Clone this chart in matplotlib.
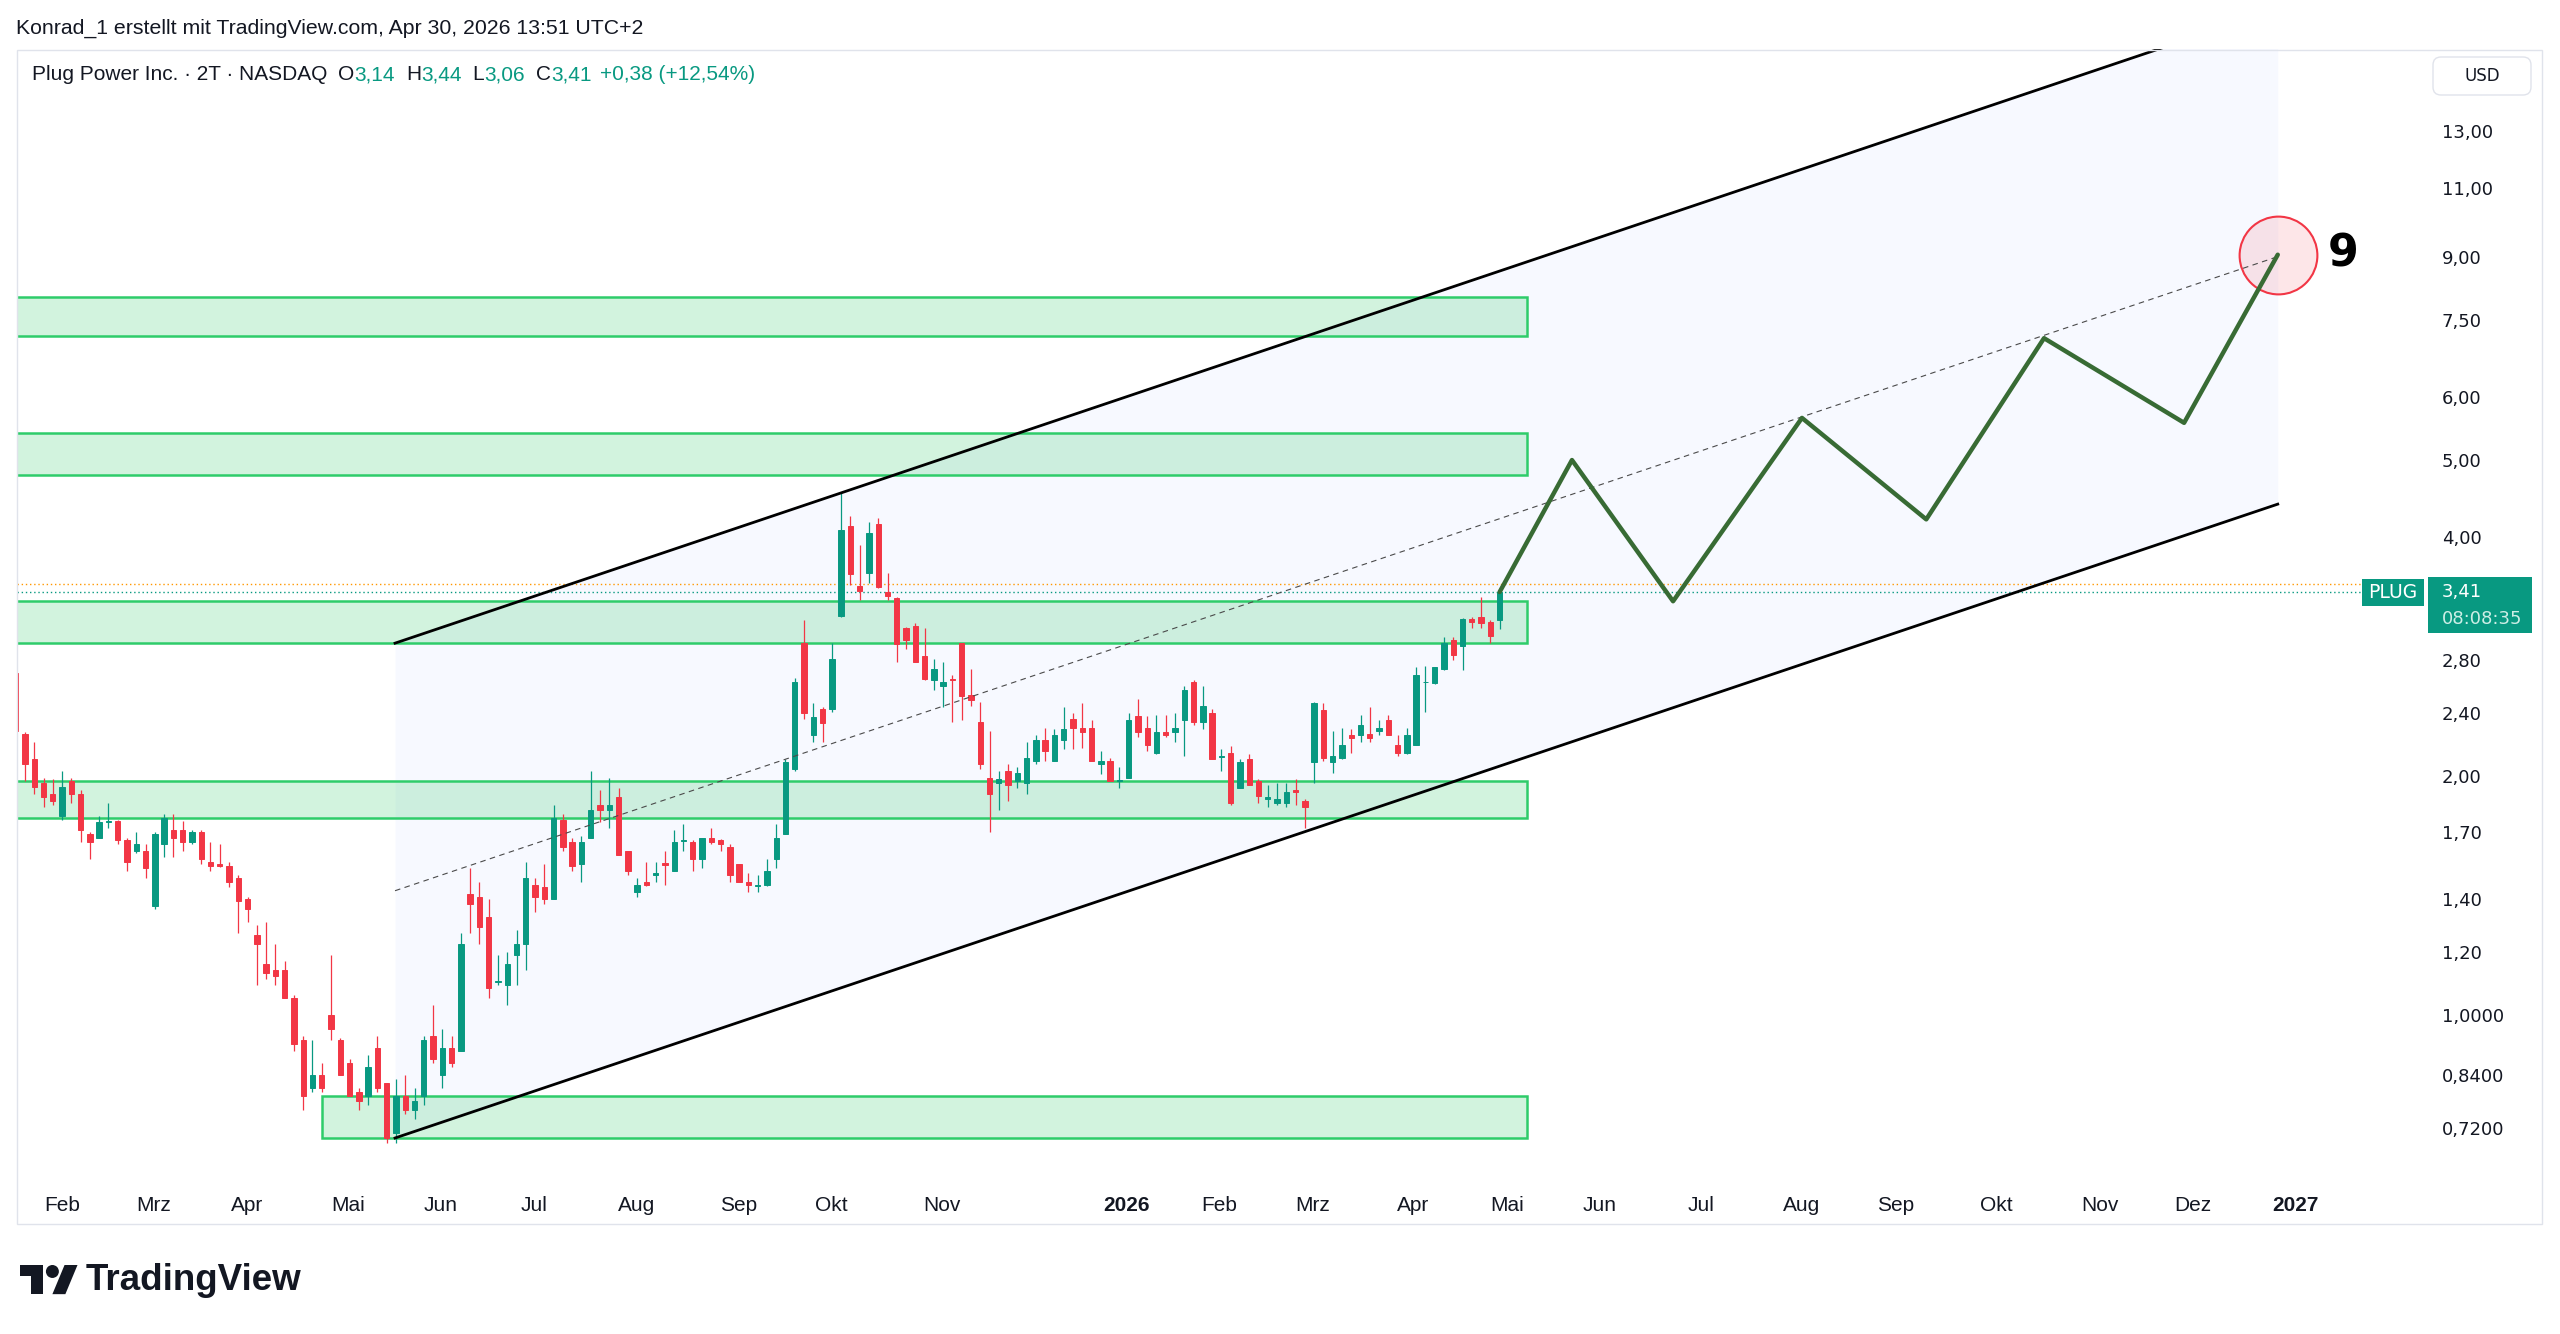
import numpy as np
import matplotlib
matplotlib.use('Agg')
import matplotlib.pyplot as plt
import matplotlib.patches as mpatches
from matplotlib.ticker import NullLocator

# PLUG, 2-day candles (bar index 0 = late Jan 2025, last bar = Apr 30 2026)
opens = [
    2.70, 2.26, 2.10, 1.96, 1.90, 1.78, 1.97, 1.90, 1.69, 1.67,
    1.75, 1.755, 1.66, 1.61, 1.61, 1.37, 1.64, 1.71, 1.71, 1.65,
    1.70, 1.56, 1.55, 1.54, 1.49, 1.40, 1.26, 1.16, 1.14, 1.14,
    1.05, 0.93, 0.81, 0.84, 1.00, 0.93, 0.87, 0.80, 0.79, 0.91,
    0.82, 0.71, 0.79, 0.76, 0.79, 0.94, 0.84, 0.91, 0.90, 1.42,
    1.41, 1.33, 1.10, 1.09, 1.19, 1.23, 1.46, 1.45, 1.40, 1.76,
    1.65, 1.55, 1.67, 1.84, 1.81, 1.88, 1.61, 1.43, 1.47, 1.50,
    1.555, 1.52, 1.655, 1.65, 1.57, 1.67, 1.66, 1.63, 1.55, 1.47,
    1.455, 1.46, 1.57, 1.69, 2.04, 2.94, 2.25, 2.43, 2.43, 3.18,
    4.13, 3.47, 3.60, 4.15, 3.41, 3.35, 3.07, 3.09, 2.83, 2.64,
    2.60, 2.65, 2.94, 2.53, 2.34, 1.99, 1.96, 2.03, 1.97, 1.96,
    2.09, 2.22, 2.09, 2.22, 2.36, 2.30, 2.30, 2.07, 2.09, 1.97,
    1.99, 2.38, 2.30, 2.14, 2.27, 2.27, 2.35, 2.63, 2.34, 2.40,
    2.115, 2.14, 1.93, 2.10, 1.97, 1.87, 1.85, 1.85, 1.92, 1.86,
    2.08, 2.42, 2.08, 2.11, 2.25, 2.25, 2.26, 2.28, 2.35, 2.19,
    2.14, 2.19, 2.625, 2.62, 2.73, 2.97, 2.92, 3.15, 3.17, 3.13,
    3.14]
highs = [
    2.74, 2.27, 2.21, 1.99, 1.98, 2.03, 1.99, 1.92, 1.70, 1.78,
    1.85, 1.76, 1.67, 1.70, 1.64, 1.70, 1.79, 1.79, 1.755, 1.71,
    1.71, 1.65, 1.64, 1.56, 1.50, 1.41, 1.30, 1.31, 1.23, 1.17,
    1.06, 0.94, 0.93, 0.87, 1.19, 0.935, 0.88, 0.81, 0.89, 0.94,
    0.82, 0.83, 0.84, 0.81, 0.94, 1.03, 0.96, 0.94, 1.27, 1.53,
    1.47, 1.40, 1.19, 1.20, 1.28, 1.56, 1.49, 1.55, 1.84, 1.79,
    1.67, 1.68, 2.03, 1.92, 1.99, 1.93, 1.61, 1.49, 1.56, 1.56,
    1.61, 1.71, 1.74, 1.66, 1.67, 1.72, 1.665, 1.64, 1.55, 1.51,
    1.50, 1.57, 1.74, 2.10, 2.66, 3.14, 2.47, 2.44, 2.94, 4.55,
    4.25, 3.91, 4.18, 4.23, 3.60, 3.36, 3.08, 3.12, 3.07, 2.81,
    2.78, 2.68, 2.94, 2.73, 2.48, 2.28, 2.03, 2.07, 2.05, 2.21,
    2.25, 2.30, 2.29, 2.44, 2.40, 2.47, 2.35, 2.15, 2.11, 2.05,
    2.40, 2.50, 2.38, 2.39, 2.39, 2.40, 2.60, 2.64, 2.60, 2.43,
    2.16, 2.18, 2.10, 2.13, 1.98, 1.95, 1.96, 1.96, 1.98, 1.87,
    2.48, 2.47, 2.28, 2.30, 2.29, 2.39, 2.44, 2.35, 2.39, 2.25,
    2.30, 2.74, 2.75, 2.74, 2.99, 2.99, 3.16, 3.17, 3.36, 3.14,
    3.44]
lows = [
    2.21, 1.97, 1.90, 1.83, 1.84, 1.76, 1.85, 1.65, 1.57, 1.67,
    1.72, 1.64, 1.52, 1.60, 1.49, 1.36, 1.58, 1.58, 1.61, 1.64,
    1.55, 1.52, 1.535, 1.45, 1.27, 1.31, 1.09, 1.11, 1.09, 1.05,
    0.90, 0.76, 0.80, 0.80, 0.93, 0.84, 0.79, 0.76, 0.77, 0.80,
    0.69, 0.69, 0.75, 0.74, 0.77, 0.87, 0.81, 0.86, 0.90, 1.27,
    1.23, 1.05, 1.09, 1.03, 1.09, 1.14, 1.35, 1.38, 1.40, 1.61,
    1.52, 1.47, 1.67, 1.75, 1.72, 1.59, 1.50, 1.41, 1.455, 1.47,
    1.46, 1.52, 1.61, 1.52, 1.53, 1.64, 1.61, 1.47, 1.47, 1.43,
    1.43, 1.455, 1.53, 1.69, 2.03, 2.36, 2.21, 2.21, 2.41, 3.17,
    3.48, 3.33, 3.50, 3.45, 3.33, 2.78, 2.89, 2.78, 2.64, 2.57,
    2.44, 2.34, 2.35, 2.45, 2.04, 1.70, 1.81, 1.86, 1.93, 1.90,
    2.07, 2.09, 2.09, 2.16, 2.16, 2.17, 2.09, 2.01, 1.97, 1.93,
    1.99, 2.24, 2.15, 2.13, 2.24, 2.21, 2.12, 2.32, 2.29, 2.10,
    2.03, 1.84, 1.93, 1.95, 1.85, 1.83, 1.84, 1.83, 1.84, 1.72,
    1.96, 2.09, 2.02, 2.10, 2.14, 2.21, 2.21, 2.25, 2.25, 2.12,
    2.13, 2.19, 2.41, 2.61, 2.72, 2.80, 2.72, 3.07, 3.07, 2.94,
    3.06]
closes = [
    2.28, 2.07, 1.94, 1.88, 1.86, 1.94, 1.90, 1.71, 1.65, 1.75,
    1.755, 1.66, 1.56, 1.64, 1.53, 1.69, 1.77, 1.67, 1.65, 1.70,
    1.57, 1.54, 1.54, 1.47, 1.39, 1.36, 1.23, 1.13, 1.12, 1.05,
    0.92, 0.79, 0.84, 0.81, 0.96, 0.84, 0.79, 0.78, 0.86, 0.81,
    0.70, 0.79, 0.76, 0.78, 0.93, 0.88, 0.91, 0.87, 1.23, 1.38,
    1.29, 1.08, 1.105, 1.16, 1.23, 1.49, 1.41, 1.40, 1.77, 1.63,
    1.54, 1.65, 1.81, 1.81, 1.84, 1.59, 1.52, 1.46, 1.46, 1.51,
    1.545, 1.65, 1.66, 1.57, 1.67, 1.65, 1.64, 1.50, 1.47, 1.46,
    1.46, 1.52, 1.67, 2.08, 2.63, 2.40, 2.37, 2.33, 2.81, 4.08,
    3.59, 3.42, 4.05, 3.46, 3.37, 2.93, 2.97, 2.78, 2.65, 2.73,
    2.63, 2.64, 2.52, 2.49, 2.07, 1.90, 1.98, 1.95, 2.02, 2.11,
    2.22, 2.15, 2.25, 2.29, 2.30, 2.27, 2.09, 2.09, 1.97, 1.975,
    2.35, 2.27, 2.19, 2.27, 2.25, 2.30, 2.57, 2.34, 2.45, 2.10,
    2.12, 1.85, 2.08, 1.95, 1.89, 1.88, 1.87, 1.91, 1.91, 1.83,
    2.47, 2.11, 2.12, 2.19, 2.23, 2.32, 2.23, 2.30, 2.25, 2.14,
    2.25, 2.68, 2.63, 2.74, 2.94, 2.84, 3.15, 3.13, 3.12, 3.00,
    3.41]

# time axis (bar index of first bar of each month)
month_pos = [5.0, 14.9, 24.9, 35.8, 45.8, 55.9, 66.9, 77.9, 87.9, 99.9, 119.8, 129.8,
             139.8, 150.7, 160.8, 170.8, 181.7, 192.6, 202.7, 213.6, 224.7, 234.7, 245.8]
month_labels = ['Feb', 'Mrz', 'Apr', 'Mai', 'Jun', 'Jul', 'Aug', 'Sep', 'Okt', 'Nov', '2026', 'Feb',
                'Mrz', 'Apr', 'Mai', 'Jun', 'Jul', 'Aug', 'Sep', 'Okt', 'Nov', 'Dez', '2027']

price_ticks = [13, 11, 9, 7.5, 6, 5, 4, 2.8, 2.4, 2.0, 1.7, 1.4, 1.2, 1.0, 0.84, 0.72]
price_labels = ['13,00', '11,00', '9,00', '7,50', '6,00', '5,00', '4,00', '2,80', '2,40',
                '2,00', '1,70', '1,40', '1,20', '1,0000', '0,8400', '0,7200']

# drawings: support / resistance zones
band_lo = [7.16, 4.79, 2.94, 1.77, 0.70]
band_hi = [8.02, 5.41, 3.32, 1.97, 0.79]
band_start = [-3, -3, -3, -3, 33.0]
band_end = 162.9

# rising channel
chan_x = [40.9, 243.9]
chan_top = [2.94, 18.5]
chan_bot = [0.70, 4.40]
chan_mid = [1.434, 9.02]

# projected path and target
path_x = [160, 167.8, 178.7, 192.6, 206.0, 218.7, 233.8, 243.9]
path_y = [3.41, 5.0, 3.32, 5.65, 4.21, 7.12, 5.57, 9.07]
target_x, target_y = 243.9, 9.07

last_price = 3.41
ext_price = 3.49

GREEN = '#089981'
RED = '#f23645'
TXT = '#131722'
UI = ['Liberation Sans', 'DejaVu Sans']

W, H = 2560, 1334
fig = plt.figure(figsize=(W / 100, H / 100), dpi=100)
fig.patch.set_facecolor('white')

px0, px1, py0, py1 = 17, 2428, 49, 1184
ax = fig.add_axes([px0 / W, 1 - py1 / H, (px1 - px0) / W, (py1 - py0) / H])
ax.set_yscale('log')
ax.set_xlim(0.14, 260.1)
ax.set_ylim(0.6126, 16.47)

o = np.array(opens)
c = np.array(closes)
idx = np.arange(len(o))
cols = np.where(c >= o, GREEN, RED)

# channel background
ax.fill_between(chan_x, chan_bot, chan_top, color='#2962ff', alpha=0.035, lw=0, zorder=0.5)

# zones
for lo, hi, x0 in zip(band_lo, band_hi, band_start):
    ax.add_patch(mpatches.Rectangle((x0, lo), band_end - x0, hi - lo,
                                    fc=(0.133, 0.773, 0.369, 0.2), ec='#2ecc6a', lw=1.8, zorder=1))

# candles
ax.vlines(idx, lows, highs, colors=cols, lw=0.9, zorder=3)
ax.bar(idx, np.abs(c - o), bottom=np.minimum(o, c), width=0.58, color=cols,
       edgecolor=cols, lw=0.7, zorder=4)

# price lines
ax.axhline(ext_price, xmax=(2362 - px0) / (px1 - px0), color='#ff9800', lw=1, ls=(0, (1, 2)), zorder=2)
ax.axhline(last_price, xmax=(2362 - px0) / (px1 - px0), color=GREEN, lw=1, ls=(0, (1, 2)), zorder=2)

# channel lines
ax.plot(chan_x, chan_top, color='black', lw=2, zorder=5)
ax.plot(chan_x, chan_bot, color='black', lw=2, zorder=5)
ax.plot(chan_x, chan_mid, color='#4a4a4a', lw=0.8, dashes=(5, 4), zorder=5)

# target circle and path
ax.plot(target_x, target_y, 'o', ms=56, mfc=(0.949, 0.212, 0.271, 0.12), mec=RED, mew=1.5, zorder=4.8)
ax.plot(path_x, path_y, color='#386b34', lw=3.2, solid_capstyle='round', zorder=6)
ax.text(251.0, 9.1, '9', fontsize=32, fontweight='bold', ha='center', va='center',
        color='black', family='DejaVu Sans', zorder=7)

# axes styling
for s in ax.spines.values():
    s.set_visible(False)
ax.yaxis.tick_right()
ax.set_yticks(price_ticks)
ax.set_yticklabels(price_labels)
ax.yaxis.set_minor_locator(NullLocator())
ax.tick_params(axis='y', length=0, pad=10, labelsize=13, labelcolor=TXT)
ax.set_xticks(month_pos)
ax.set_xticklabels(month_labels)
ax.tick_params(axis='x', length=0, pad=8.5, labelsize=15, labelcolor=TXT)
for lbl in ax.get_xticklabels():
    lbl.set_family(UI)
    if lbl.get_text().startswith('20'):
        lbl.set_fontweight('bold')
for lbl in ax.get_yticklabels():
    lbl.set_family('DejaVu Sans')

# overlay in pixel coordinates
ov = fig.add_axes([0, 0, 1, 1])
ov.set_xlim(0, W)
ov.set_ylim(H, 0)
ov.axis('off')

ov.add_patch(mpatches.Rectangle((16.5, 49.5), 2542 - 16.5, 1224 - 49.5, fill=False, ec='#e0e3eb', lw=1.0))

renderer = fig.canvas.get_renderer()

ov.text(16, 28, 'Konrad_1 erstellt mit TradingView.com, Apr 30, 2026 13:51 UTC+2',
        fontsize=15.3, color=TXT, family=UI, va='center', ha='left')


def fmt(v):
    return ('%.2f' % v).replace('.', ',')


pieces = [('Plug Power Inc. · 2T · NASDAQ', TXT, 11), ('O', TXT, 0), (fmt(opens[-1]), GREEN, 11),
          ('H', TXT, 0), (fmt(highs[-1]), GREEN, 11), ('L', TXT, 0), (fmt(lows[-1]), GREEN, 11),
          ('C', TXT, 0), (fmt(closes[-1]), GREEN, 9), ('+0,38 (+12,54%)', GREEN, 0)]
x = 32
for txt, col, gap in pieces:
    t = ov.text(x, 75, txt, fontsize=15, color=col, family=UI, va='center', ha='left')
    x += t.get_window_extent(renderer).width + gap

# USD box
ov.add_patch(mpatches.FancyBboxPatch((2433, 57), 98, 38, boxstyle='round,pad=0,rounding_size=8',
                                     fc='white', ec='#e0e3eb', lw=1))
ov.text(2482, 76, 'USD', fontsize=12, color=TXT, family='DejaVu Sans', ha='center', va='center')

# last price labels
yp = H - ax.transData.transform((0, last_price))[1]
ov.add_patch(mpatches.Rectangle((2362, yp - 13.5), 62, 27, fc=GREEN, ec='none'))
ov.text(2393, yp, 'PLUG', color='white', fontsize=13.5, family='DejaVu Sans', ha='center', va='center')
ov.add_patch(mpatches.Rectangle((2428, yp - 15), 104, 56, fc=GREEN, ec='none'))
ov.text(2442, yp, fmt(last_price), color='white', fontsize=13, family='DejaVu Sans', ha='left', va='center')
ov.text(2442, yp + 27, '08:08:35', color='#cdeee6', fontsize=13, family='DejaVu Sans', ha='left', va='center')

# TradingView logo
s = 1.62
lx, ly = 20, 1265 - 4 * s
logo_t = [(14, 22), (7, 22), (7, 11), (0, 11), (0, 4), (14, 4)]
logo_slash = [(28, 22), (20, 22), (27.5, 4), (35.5, 4)]
ov.add_patch(mpatches.Polygon([(lx + u * s, ly + v * s) for u, v in logo_t], closed=True, fc=TXT, ec='none'))
ov.add_patch(mpatches.Polygon([(lx + u * s, ly + v * s) for u, v in logo_slash], closed=True, fc=TXT, ec='none'))
ov.add_patch(mpatches.Circle((lx + 20 * s, ly + 8 * s), 4 * s, fc=TXT, ec='none'))
ov.text(86, 1281, 'TradingView', fontsize=26.5, fontweight='bold', color=TXT, family=UI, ha='left', va='center')

fig.savefig('out.png', dpi=100)
